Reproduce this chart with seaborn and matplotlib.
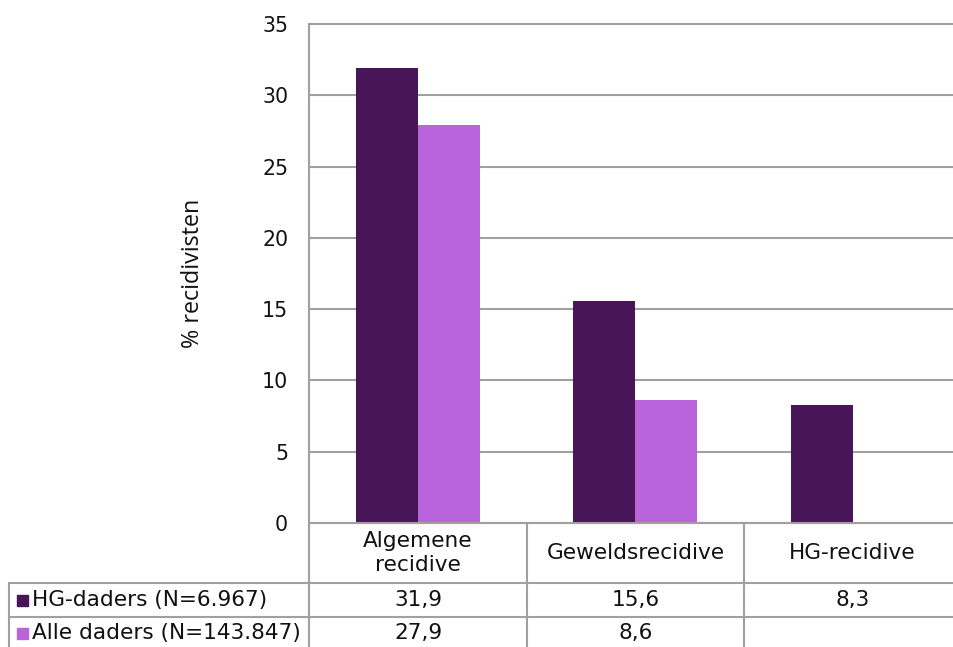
import numpy as np
import pandas as pd
import matplotlib
matplotlib.use("Agg")
import matplotlib.pyplot as plt
from matplotlib.lines import Line2D
from matplotlib.patches import Rectangle
import seaborn as sns

categories = ["Algemene\nrecidive", "Geweldsrecidive", "HG-recidive"]
series_names = ["HG-daders (N=6.967)", "Alle daders (N=143.847)"]
hg_daders = [31.9, 15.6, 8.3]
alle_daders = [27.9, 8.6, np.nan]
colors = ["#481559", "#BA64DB"]
y_ticks = [0, 5, 10, 15, 20, 25, 30, 35]

sns.set_theme(style="white")
plt.rcParams["font.family"] = ["DejaVu Sans"]

W, H = 954, 647
fig = plt.figure(figsize=(W / 100, H / 100), dpi=100)

# plot area in pixel coords of the reference
left, right, top, bottom = 309, 961.5, 24, 523
ax = fig.add_axes([left / W, 1 - bottom / H, (right - left) / W, (bottom - top) / H])

df = pd.DataFrame({
    "cat": categories * 2,
    "serie": [series_names[0]] * 3 + [series_names[1]] * 3,
    "val": hg_daders + alle_daders,
})
sns.barplot(data=df, x="cat", y="val", hue="serie", palette=colors,
            width=0.57, gap=0, saturation=1, ax=ax, legend=False,
            linewidth=0, zorder=3)

ax.set_ylim(0, 35)
ax.set_xlim(-0.5, 2.5)
ax.set_yticks(y_ticks)
ax.set_yticklabels([str(t) for t in y_ticks], fontsize=14.8, color="#111111")
ax.tick_params(axis="y", length=0, pad=15)
ax.set_xticks([])
ax.set_xlabel("")
ax.set_ylabel("% recidivisten", fontsize=16.8, family=["Open Sans", "DejaVu Sans"],
              labelpad=41, color="#111111")
ax.grid(axis="y", color="#A0A0A0", linewidth=1.5, zorder=0)
for gl in ax.get_ygridlines():
    gl.set_clip_on(False)
for s in ["top", "right", "bottom"]:
    ax.spines[s].set_visible(False)
ax.spines["left"].set_color("#A0A0A0")
ax.spines["left"].set_linewidth(1.5)


def fx(x):
    return x / W


def fy(y):
    return 1 - y / H


line_kw = dict(color="#A0A0A0", linewidth=1.5, transform=fig.transFigure)
# table lines
fig.add_artist(Line2D([fx(309), fx(W + 10)], [fy(523), fy(523)], **line_kw))
fig.add_artist(Line2D([fx(9), fx(W + 10)], [fy(583), fy(583)], **line_kw))
fig.add_artist(Line2D([fx(9), fx(W + 10)], [fy(617), fy(617)], **line_kw))
fig.add_artist(Line2D([fx(9), fx(9)], [fy(583), fy(H + 10)], **line_kw))
for xv in [309, 527, 744]:
    fig.add_artist(Line2D([fx(xv), fx(xv)], [fy(523), fy(H + 10)], **line_kw))

col_centers = [418, 635.5, 852.5]
txt_size = 15.6
for c, lab in zip(col_centers, categories):
    fig.text(fx(c), fy(553), lab, ha="center", va="center", fontsize=txt_size,
             linespacing=1.3, color="#111111")

row_y = [600, 633]
rows = [hg_daders, alle_daders]
for ry, name, vals, col in zip(row_y, series_names, rows, colors):
    fig.add_artist(Rectangle((fx(17), fy(ry + 5.5)), 11 / W, 11 / H,
                             transform=fig.transFigure, color=col))
    fig.text(fx(32), fy(ry), name, ha="left", va="center", fontsize=txt_size,
             color="#111111")
    for c, v in zip(col_centers, vals):
        if not np.isnan(v):
            fig.text(fx(c), fy(ry), f"{v:.1f}".replace(".", ","), ha="center",
                     va="center", fontsize=txt_size, color="#111111")

fig.savefig("out.png", dpi=100)
